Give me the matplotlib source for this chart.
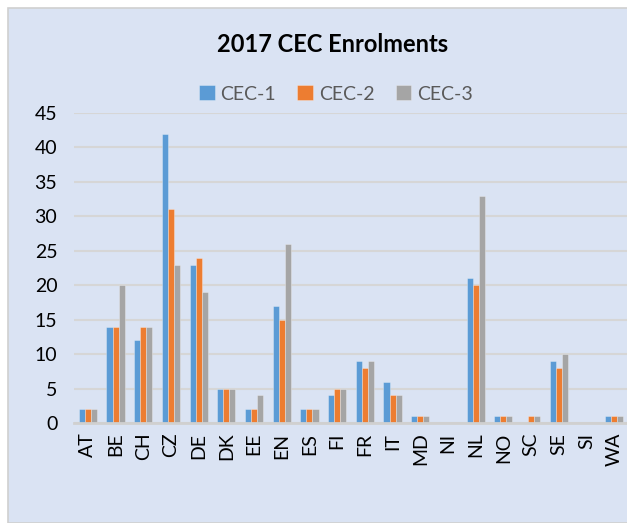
import matplotlib
matplotlib.use("Agg")
import matplotlib.pyplot as plt
import numpy as np
from matplotlib.patches import Rectangle

categories = ["AT", "BE", "CH", "CZ", "DE", "DK", "EE", "EN", "ES", "FI", "FR",
              "IT", "MD", "NI", "NL", "NO", "SC", "SE", "SI", "WA"]
cec1 = [2, 14, 12, 42, 23, 5, 2, 17, 2, 4, 9, 6, 1, 0, 21, 1, 0, 9, 0, 1]
cec2 = [2, 14, 14, 31, 24, 5, 2, 15, 2, 5, 8, 4, 1, 0, 20, 1, 1, 8, 0, 1]
cec3 = [2, 20, 14, 23, 19, 5, 4, 26, 2, 5, 9, 4, 1, 0, 33, 1, 1, 10, 0, 1]
series_names = ["CEC-1", "CEC-2", "CEC-3"]
colors = ["#5B9BD5", "#ED7D31", "#A5A5A5"]
yticks = [0, 5, 10, 15, 20, 25, 30, 35, 40, 45]

plt.rcParams['font.family'] = ['Lato', 'DejaVu Sans']
bg = "#DAE3F3"

fig = plt.figure(figsize=(6.27, 5.23), dpi=100)
fig.patch.set_facecolor("white")
fig.patches.append(Rectangle((8 / 627, 0), 1.2, (523 - 8) / 523, transform=fig.transFigure,
                             facecolor=bg, edgecolor="#D0D0D0", linewidth=1.2, zorder=-10))

ax = fig.add_axes([74 / 627, 100 / 523, 554 / 627, 310 / 523])
ax.set_zorder(5)
ax.patch.set_alpha(0)

x = np.arange(len(categories))
w = 0.22
for i, (vals, name, c) in enumerate(zip([cec1, cec2, cec3], series_names, colors)):
    ax.bar(x + (i - 1) * w, vals, width=w, color=c, label=name, zorder=3,
           edgecolor=(1, 1, 1, 0.35), linewidth=0.6)

ax.set_xlim(-0.5, len(categories) - 0.5)
ax.set_ylim(0, 45)
ax.set_yticks(yticks)
ax.set_yticklabels([str(t) for t in yticks], fontsize=14, color="black")
ax.set_xticks(x)
ax.set_xticklabels(categories, rotation=90, fontsize=14, color="black")
ax.tick_params(axis="y", length=0, pad=12)
ax.tick_params(axis="x", length=0, pad=7)
ax.yaxis.grid(True, color="#D6D6D6", linewidth=1.5, zorder=0)
for s in ["top", "right", "left"]:
    ax.spines[s].set_visible(False)
ax.spines["bottom"].set_color("#D0D0D0")
ax.spines["bottom"].set_linewidth(2)
ax.spines["bottom"].set_zorder(4)

fig.text(333 / 627, 1 - 45 / 523, "2017 CEC Enrolments", ha="center", va="center",
         fontsize=17, fontweight="bold", color="black")
leg = fig.legend(loc="center", bbox_to_anchor=(336 / 627, 1 - 94 / 523), ncol=3,
                 frameon=False, fontsize=14, handlelength=0.8, handleheight=0.8,
                 handletextpad=0.3, columnspacing=1.1)
for t in leg.get_texts():
    t.set_color("#595959")

fig.savefig("out.png", dpi=100, facecolor=fig.get_facecolor())
